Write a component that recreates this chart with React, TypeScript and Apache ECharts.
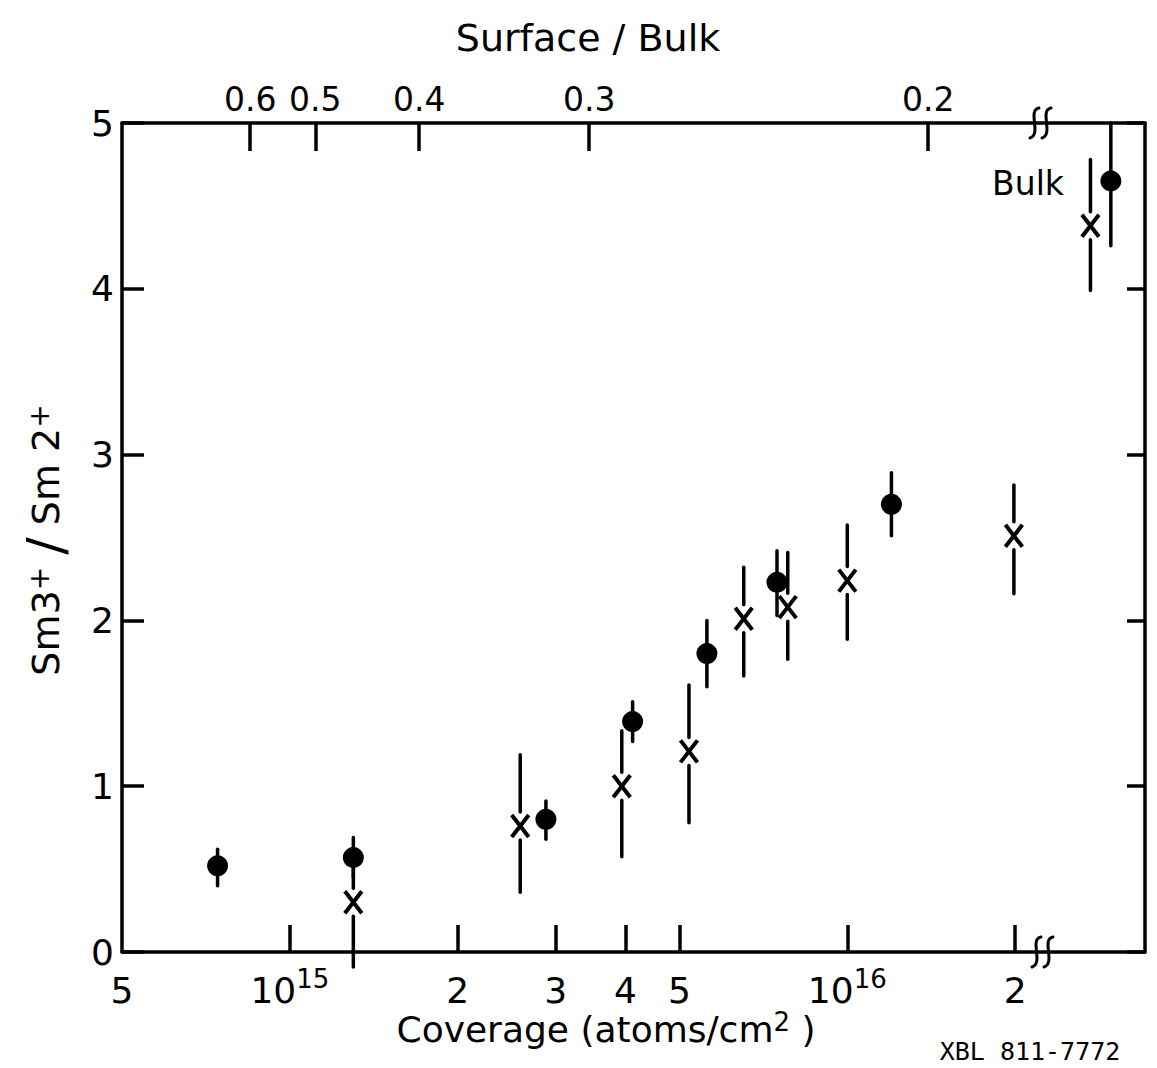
import React, { useEffect, useRef } from 'react';
import * as echarts from 'echarts';

// Coverage axis (log) extent
const X_MIN = 5e14;
const X_MAX = 3.42e16;

// Bottom axis ticks / labels (coverage, atoms/cm^2)
const bottomTickValues = [5e14, 1e15, 2e15, 3e15, 4e15, 5e15, 1e16, 2e16];
const bottomTickLabels = ['5', '10^15', '2', '3', '4', '5', '10^16', '2'];

// Top axis (Surface / Bulk) ticks placed at coverage values
const surfaceTickValues = [8.49e14, 1.111e15, 1.706e15, 3.443e15, 1.397e16];
const surfaceTickLabels = ['0.6', '0.5', '0.4', '0.3', '0.2'];

// Filled circles
const circleX = [7.42e14, 1.3e15, 2.88e15, 4.12e15, 5.6e15, 7.48e15, 1.2e16, 2.97e16];
const circleY = [0.52, 0.57, 0.8, 1.39, 1.8, 2.23, 2.7, 4.65];
const circleLow = [0.4, 0.45, 0.68, 1.27, 1.6, 2.03, 2.51, 4.26];
const circleHigh = [0.62, 0.69, 0.91, 1.51, 2.0, 2.42, 2.89, 5.0];

// Crosses
const crossX = [1.3e15, 2.59e15, 3.94e15, 5.2e15, 6.52e15, 7.82e15, 1.0e16, 1.99e16, 2.73e16];
const crossY = [0.3, 0.76, 1.0, 1.21, 2.01, 2.08, 2.24, 2.51, 4.38];
const crossLow = [-0.09, 0.36, 0.575, 0.78, 1.665, 1.765, 1.886, 2.16, 3.99];
const crossHigh = [0.57, 1.19, 1.335, 1.61, 2.32, 2.41, 2.575, 2.817, 4.78];

const yTicks = [0, 1, 2, 3, 4, 5];

const FONT = 'DejaVu Sans';

function nearestLabel(v: number, vals: number[], labels: string[]) {
  let best = 0;
  let bd = Infinity;
  vals.forEach((t, i) => {
    const d = Math.abs(Math.log10(v) - Math.log10(t));
    if (d < bd) {
      bd = d;
      best = i;
    }
  });
  return labels[best];
}

function fmtBottom(v: number) {
  const s = nearestLabel(v, bottomTickValues, bottomTickLabels);
  if (s.indexOf('^') >= 0) {
    const [b, e] = s.split('^');
    return '{base|' + b + '}{sup|' + e + '}';
  }
  return '{base|' + s + '}';
}

export default function App() {
  const ref = useRef<HTMLDivElement>(null);

  useEffect(() => {
    if (!ref.current) return;
    const chart = echarts.init(ref.current, undefined, { renderer: 'svg' });

    const axisLineStyle = { color: '#000', width: 3.5 };

    const breakMark = (cx: number, cy: number) => {
      const s = (x: number) => ({
        type: 'bezierCurve',
        shape: {
          x1: x + 5, y1: cy - 15,
          cpx1: x - 7, cpy1: cy - 13,
          cpx2: x + 8, cpy2: cy + 11,
          x2: x - 4, y2: cy + 15,
        },
        style: { stroke: '#000', lineWidth: 3, fill: null, lineCap: 'round' },
      });
      return {
        type: 'group',
        children: [
          { type: 'rect', shape: { x: cx - 9, y: cy - 4, width: 18, height: 8 }, style: { fill: '#fff' } },
          s(cx - 6),
          s(cx + 6),
        ],
      };
    };

    const option: any = {
      animation: false,
      backgroundColor: '#fff',
      grid: { left: 122, top: 123, width: 1023, height: 829, containLabel: false },
      xAxis: [
        {
          type: 'log',
          logBase: 10,
          min: X_MIN,
          max: X_MAX,
          position: 'bottom',
          axisLine: { show: true, onZero: false, lineStyle: axisLineStyle },
          axisTick: {
            show: true,
            inside: true,
            length: 27,
            customValues: bottomTickValues.slice(1),
            lineStyle: { color: '#000', width: 3.5 },
          },
          minorTick: { show: false },
          splitLine: { show: false },
          axisLabel: {
            show: true,
            customValues: bottomTickValues,
            margin: 12,
            formatter: (v: number) => fmtBottom(v),
            rich: {
              base: { fontFamily: FONT, fontSize: 36, color: '#000', padding: [8, 0, 0, 0] },
              sup: { fontFamily: FONT, fontSize: 26, color: '#000', padding: [0, 0, 14, 0] },
            },
          },
        },
        {
          type: 'log',
          logBase: 10,
          min: X_MIN,
          max: X_MAX,
          position: 'top',
          axisLine: { show: true, onZero: false, lineStyle: axisLineStyle },
          axisTick: {
            show: true,
            inside: true,
            length: 28,
            customValues: surfaceTickValues,
            lineStyle: { color: '#000', width: 3.5 },
          },
          minorTick: { show: false },
          splitLine: { show: false },
          axisLabel: {
            show: true,
            customValues: surfaceTickValues,
            margin: 7,
            fontFamily: FONT,
            fontSize: 33,
            color: '#000',
            formatter: (v: number) => nearestLabel(v, surfaceTickValues, surfaceTickLabels),
          },
        },
      ],
      yAxis: [
        {
          type: 'value',
          min: yTicks[0],
          max: yTicks[yTicks.length - 1],
          interval: 1,
          position: 'left',
          axisLine: { show: true, onZero: false, lineStyle: axisLineStyle },
          axisTick: { show: true, inside: true, length: 22, lineStyle: { color: '#000', width: 3.5 } },
          splitLine: { show: false },
          axisLabel: { show: true, margin: 8, fontFamily: FONT, fontSize: 36, color: '#000' },
        },
        {
          type: 'value',
          min: yTicks[0],
          max: yTicks[yTicks.length - 1],
          interval: 1,
          position: 'right',
          axisLine: { show: true, onZero: false, lineStyle: axisLineStyle },
          axisTick: { show: true, inside: true, length: 18, lineStyle: { color: '#000', width: 3.5 } },
          splitLine: { show: false },
          axisLabel: { show: false },
        },
      ],
      series: [
        {
          type: 'custom',
          name: 'circles',
          xAxisIndex: 0,
          yAxisIndex: 0,
          clip: false,
          data: circleX.map((x, i) => [x, circleY[i], circleLow[i], circleHigh[i]]),
          encode: { x: 0, y: 1 },
          renderItem: (params: any, api: any) => {
            const x = api.value(0);
            const c = api.coord([x, api.value(1)]);
            const lo = api.coord([x, api.value(2)]);
            const hi = api.coord([x, api.value(3)]);
            return {
              type: 'group',
              children: [
                {
                  type: 'line',
                  shape: { x1: c[0], y1: hi[1], x2: c[0], y2: lo[1] },
                  style: { stroke: '#000', lineWidth: 3.5, lineCap: 'round' },
                },
                {
                  type: 'circle',
                  shape: { cx: c[0], cy: c[1], r: 10.5 },
                  style: { fill: '#000' },
                },
              ],
            };
          },
        },
        {
          type: 'custom',
          name: 'crosses',
          xAxisIndex: 0,
          yAxisIndex: 0,
          clip: false,
          data: crossX.map((x, i) => [x, crossY[i], crossLow[i], crossHigh[i]]),
          encode: { x: 0, y: 1 },
          renderItem: (params: any, api: any) => {
            const x = api.value(0);
            const c = api.coord([x, api.value(1)]);
            const lo = api.coord([x, api.value(2)]);
            const hi = api.coord([x, api.value(3)]);
            const gap = 14;
            const w = 8.5;
            const h = 11;
            const st = { stroke: '#000', lineWidth: 3.5, lineCap: 'round' };
            const st2 = { stroke: '#000', lineWidth: 4, lineCap: 'butt' };
            return {
              type: 'group',
              children: [
                { type: 'line', shape: { x1: c[0], y1: hi[1], x2: c[0], y2: c[1] - gap }, style: st },
                { type: 'line', shape: { x1: c[0], y1: c[1] + gap, x2: c[0], y2: lo[1] }, style: st },
                { type: 'line', shape: { x1: c[0] - w, y1: c[1] - h, x2: c[0] + w, y2: c[1] + h }, style: st2 },
                { type: 'line', shape: { x1: c[0] + w, y1: c[1] - h, x2: c[0] - w, y2: c[1] + h }, style: st2 },
              ],
            };
          },
        },
      ],
      graphic: [
        {
          type: 'text',
          x: 588,
          y: 38,
          style: {
            text: 'Surface / Bulk',
            fontFamily: FONT,
            fontSize: 38,
            fill: '#000',
            align: 'center',
            verticalAlign: 'middle',
          },
        },
        {
          type: 'text',
          x: 606,
          y: 1029,
          style: {
            text: 'Coverage (atoms/cm{sup|2} )',
            fontFamily: FONT,
            fontSize: 36,
            fill: '#000',
            align: 'center',
            verticalAlign: 'middle',
            rich: {
              sup: { fontFamily: FONT, fontSize: 26, padding: [0, 0, 14, 0] },
            },
          },
        },
        {
          type: 'text',
          x: 46,
          y: 540,
          rotation: Math.PI / 2,
          style: {
            text: 'Sm3{sup|+} {sl|/} Sm 2{sup|+}',
            fontFamily: FONT,
            fontSize: 38,
            fill: '#000',
            align: 'center',
            verticalAlign: 'middle',
            rich: {
              sup: { fontFamily: FONT, fontSize: 28, padding: [0, 0, 14, 0] },
              sl: { fontFamily: FONT, fontSize: 52 },
            },
          },
        },
        {
          type: 'text',
          x: 1028,
          y: 183,
          style: {
            text: 'Bulk',
            fontFamily: FONT,
            fontSize: 33,
            fill: '#000',
            align: 'center',
            verticalAlign: 'middle',
          },
        },
        {
          type: 'text',
          x: 1030,
          y: 1051,
          style: {
            text: 'XBL 811-7772',
            fontFamily: 'DejaVu Sans Mono',
            fontSize: 25,
            fill: '#000',
            align: 'center',
            verticalAlign: 'middle',
          },
        },
        breakMark(1042, 952),
        breakMark(1040, 123),
      ],
    };

    chart.setOption(option);
    return () => chart.dispose();
  }, []);

  return (
    <div
      ref={ref}
      style={{ position: 'absolute', left: 0, top: 0, width: 1157, height: 1068, background: '#fff' }}
    />
  );
}
